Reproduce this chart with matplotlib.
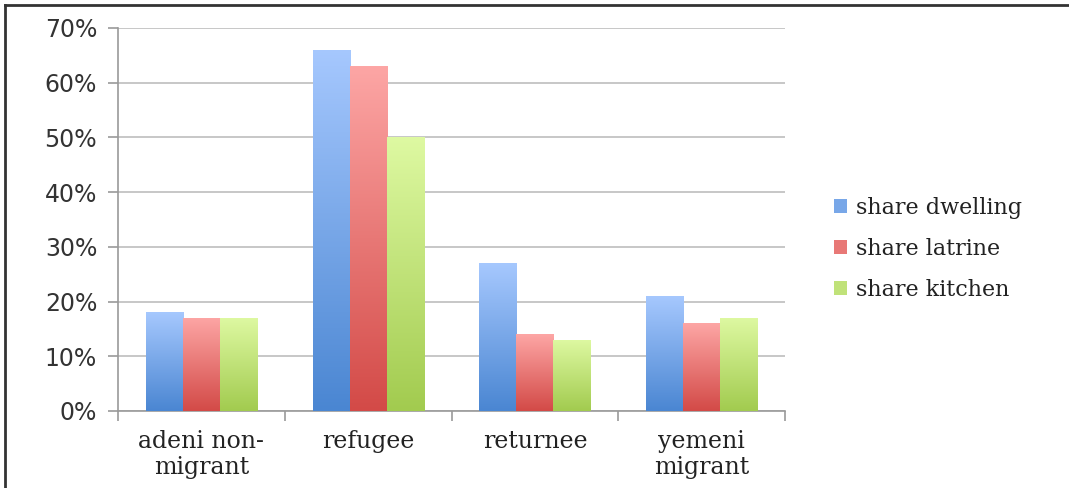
import matplotlib

matplotlib.use('Agg')
import matplotlib.pyplot as plt
import numpy as np
from matplotlib.colors import LinearSegmentedColormap, to_rgb
from matplotlib.lines import Line2D
from matplotlib.patches import Patch

groups = ['adeni non-\nmigrant', 'refugee', 'returnee', 'yemeni\nmigrant']
series = ['share dwelling', 'share latrine', 'share kitchen']
dwelling = [18, 66, 27, 21]
latrine = [17, 63, 14, 16]
kitchen = [17, 50, 13, 17]
yticks = [0, 10, 20, 30, 40, 50, 60, 70]

# light top / dark bottom for each series
shades = [('#a6c8fe', '#4a86d2'), ('#fda6a5', '#d34a47'), ('#def9a2', '#a2cb4f')]

fig = plt.figure(figsize=(10.69, 4.88), dpi=100)
ax = fig.add_axes([0.1104, 0.1578, 0.624, 0.785])

idx = np.arange(len(groups))
w = 0.222
grad = np.linspace(1, 0, 256).reshape(-1, 1)
for k, vals in enumerate([dwelling, latrine, kitchen]):
    cmap = LinearSegmentedColormap.from_list('g%d' % k, [shades[k][1], shades[k][0]])
    bars = ax.bar(idx + (k - 1) * w, vals, w, color='none', edgecolor='none', zorder=3)
    for b in bars:
        x0, y0 = b.get_x(), b.get_y()
        im = ax.imshow(grad, cmap=cmap, aspect='auto', zorder=3,
                       extent=[x0, x0 + b.get_width(), y0, y0 + b.get_height()])
        im.set_clip_path(b)

ax.set_xlim(-0.5, len(groups) - 0.5)
ax.set_ylim(0, 70)
ax.set_yticks(yticks)
ax.set_yticklabels(['%d%%' % t for t in yticks], fontsize=17, color='#333333',
                   family='DejaVu Sans')
ax.set_xticks(idx)
ax.set_xticklabels(groups, fontsize=17, family='DejaVu Serif', color='#222222',
                   linespacing=1.15)
ax.tick_params(axis='x', length=0, pad=14)
ax.tick_params(axis='y', length=7, color='#9a9a9a', width=1.2, pad=8)
ax.set_xticks(np.arange(len(groups) + 1) - 0.5, minor=True)
ax.tick_params(axis='x', which='minor', length=7, color='#9a9a9a', width=1.2)

ax.grid(axis='y', color='#bdbdbd', linewidth=1.2, zorder=0)
for s in ['top', 'right']:
    ax.spines[s].set_visible(False)
for s in ['left', 'bottom']:
    ax.spines[s].set_color('#9a9a9a')
    ax.spines[s].set_linewidth(1.2)

handles = [Patch(facecolor=(np.array(to_rgb(a)) + np.array(to_rgb(b))) / 2,
                 edgecolor='none') for a, b in shades]
leg = fig.legend(handles, series, loc='center left', bbox_to_anchor=(0.761, 0.49),
                 frameon=False, prop={'family': 'DejaVu Serif', 'size': 16},
                 handlelength=0.6, handleheight=0.6, handletextpad=0.4,
                 labelspacing=0.85)
for t in leg.get_texts():
    t.set_color('#222222')

# outer frame, top and left edges
fig.add_artist(Line2D([0.005, 1.0], [0.99, 0.99], transform=fig.transFigure,
                      color='#333333', linewidth=2))
fig.add_artist(Line2D([0.005, 0.005], [0.0, 0.99], transform=fig.transFigure,
                      color='#333333', linewidth=2))

plt.savefig('out.png', dpi=100)
plt.close()
